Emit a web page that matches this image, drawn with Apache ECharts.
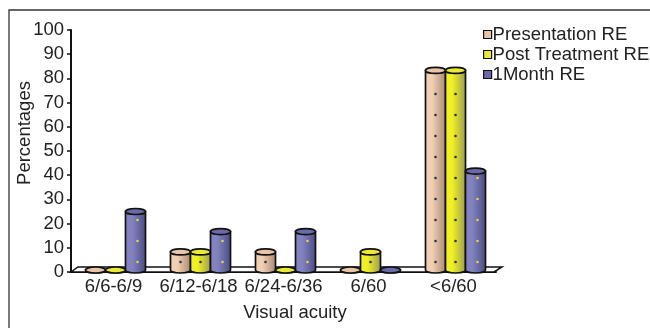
<!DOCTYPE html>
<html>
<head>
<meta charset="utf-8">
<script src="https://cdn.jsdelivr.net/npm/echarts@6/dist/echarts.min.js"></script>
<style>
  html, body { margin: 0; padding: 0; background: #fff; }
  #main { width: 650px; height: 328px; }
</style>
</head>
<body>
<div id="main"></div>
<script>
// 数据
const categories = ['6/6-6/9', '6/12-6/18', '6/24-6/36', '6/60', '<6/60'];
const seriesNames = ['Presentation RE', 'Post Treatment RE', '1Month RE'];
const presentationRE = [0, 8.3, 8.3, 0, 83.3];
const postTreatmentRE = [0, 8.3, 0, 8.3, 83.3];
const oneMonthRE = [25, 16.7, 16.7, 0, 41.7];
const yTicks = [0, 10, 20, 30, 40, 50, 60, 70, 80, 90, 100];

// 颜色: [左侧亮, 右侧暗, 顶面, 点]
const palette = [
    ['#f2cfb2', '#a68870', '#e9c4a6', '#333'],
    ['#f0f024', '#9a9a58', '#eaea36', '#333'],
    ['#8282c0', '#4a4a80', '#6a6aa8', '#d8d848']
];

const chartDom = document.getElementById('main');
const myChart = echarts.init(chartDom);

const rx = 10, ry = 3;
const fontSize = 18.5;
const fontFamily = 'Liberation Sans, Arial, sans-serif';

// 圆柱
const cylinder = (s) => (params, api) => {
    const idx = api.value(0);
    const v = api.value(1);
    const base = api.coord([idx, 0]);
    const cx = base[0] + (s - 1) * 20 + 2;
    const by = base[1] - 2;
    let ty = api.coord([idx, v])[1];
    if (ty > by) ty = by;
    const c = palette[s];
    const body = 'M' + (cx - rx) + ',' + ty + ' L' + (cx - rx) + ',' + by +
        ' A' + rx + ' ' + ry + ' 0 0 0 ' + (cx + rx) + ',' + by +
        ' L' + (cx + rx) + ',' + ty + ' Z';
    const top = 'M' + (cx - rx) + ',' + ty +
        ' A' + rx + ' ' + ry + ' 0 1 0 ' + (cx + rx) + ',' + ty +
        ' A' + rx + ' ' + ry + ' 0 1 0 ' + (cx - rx) + ',' + ty + ' Z';
    const children = [{
        type: 'path',
        shape: { pathData: body },
        style: {
            fill: new echarts.graphic.LinearGradient(0, 0, 1, 0, [
                { offset: 0, color: c[0] },
                { offset: 0.35, color: c[0] },
                { offset: 1, color: c[1] }
            ]),
            stroke: '#111',
            lineWidth: 1.7
        }
    }];
    // 点
    for (let y = by - 8; y > ty + 6; y -= 21) {
        children.push({
            type: 'circle',
            shape: { cx: cx + (s === 2 ? 2 : 0), cy: y, r: 1.3 },
            style: { fill: c[3] }
        });
    }
    children.push({
        type: 'path',
        shape: { pathData: top },
        style: { fill: c[2], stroke: '#111', lineWidth: 1.7 }
    });
    return { type: 'group', children: children };
};

// 底面
const floor = (params, api) => {
    const first = api.coord([0, 0]);
    const last = api.coord([categories.length - 1, 0]);
    const w = api.size([1, 0])[0];
    const x0 = first[0] - w / 2, x1 = last[0] + w / 2, y0 = first[1];
    return {
        type: 'polygon',
        shape: { points: [[x0, y0], [x1 - 2, y0], [x1 + 6, y0 - 5], [x0 + 7, y0 - 5]] },
        style: { fill: '#fff', stroke: '#111', lineWidth: 1.5 }
    };
};

const dataLists = [presentationRE, postTreatmentRE, oneMonthRE];

const option = {
    animation: false,
    textStyle: { fontFamily: fontFamily },
    grid: { left: 71, right: 154, top: 30, bottom: 56 },
    legend: {
        orient: 'vertical',
        left: 478,
        top: 20,
        itemGap: 1,
        itemWidth: 8,
        itemHeight: 8,
        icon: 'rect',
        textStyle: { fontSize: fontSize, color: '#222', padding: [0, 0, 0, -4] },
        data: seriesNames.map((n, i) => ({
            name: n,
            itemStyle: { color: palette[i][2], borderColor: '#111', borderWidth: 1.2 }
        }))
    },
    xAxis: {
        type: 'category',
        data: categories,
        axisLine: { lineStyle: { color: '#111', width: 2 } },
        axisTick: { length: 4, lineStyle: { color: '#111', width: 1.5 } },
        axisLabel: { fontSize: fontSize, color: '#222', margin: 5, interval: 0 },
        z: 1
    },
    yAxis: {
        type: 'value',
        min: 0,
        max: 100,
        interval: 10,
        axisLine: { show: true, lineStyle: { color: '#111', width: 2 } },
        axisTick: { show: true, length: 4, lineStyle: { color: '#111', width: 1.5 } },
        axisLabel: { fontSize: fontSize, color: '#222', margin: 7 },
        splitLine: { show: false }
    },
    graphic: [
        {
            type: 'polyline',
            shape: { points: [[9, 328], [9, 10], [650, 10]] },
            style: { stroke: '#333', lineWidth: 1.3, fill: null }
        },
        {
            type: 'text',
            x: 295, y: 313,
            style: { text: 'Visual acuity', fontSize: fontSize, fill: '#222', align: 'center', verticalAlign: 'middle', fontFamily: fontFamily }
        },
        {
            type: 'text',
            x: 25, y: 133,
            rotation: Math.PI / 2,
            style: { text: 'Percentages', fontSize: fontSize, fill: '#222', align: 'center', verticalAlign: 'middle', fontFamily: fontFamily }
        }
    ],
    series: [
        {
            type: 'custom',
            name: 'floor',
            renderItem: floor,
            data: [[0, 0]],
            silent: true,
            z: 2
        }
    ].concat(dataLists.map((list, s) => ({
        type: 'custom',
        name: seriesNames[s],
        renderItem: cylinder(s),
        itemStyle: { color: palette[s][2] },
        data: list.map((v, i) => [i, v]),
        z: 3
    })))
};

option && myChart.setOption(option);
</script>
</body>
</html>
